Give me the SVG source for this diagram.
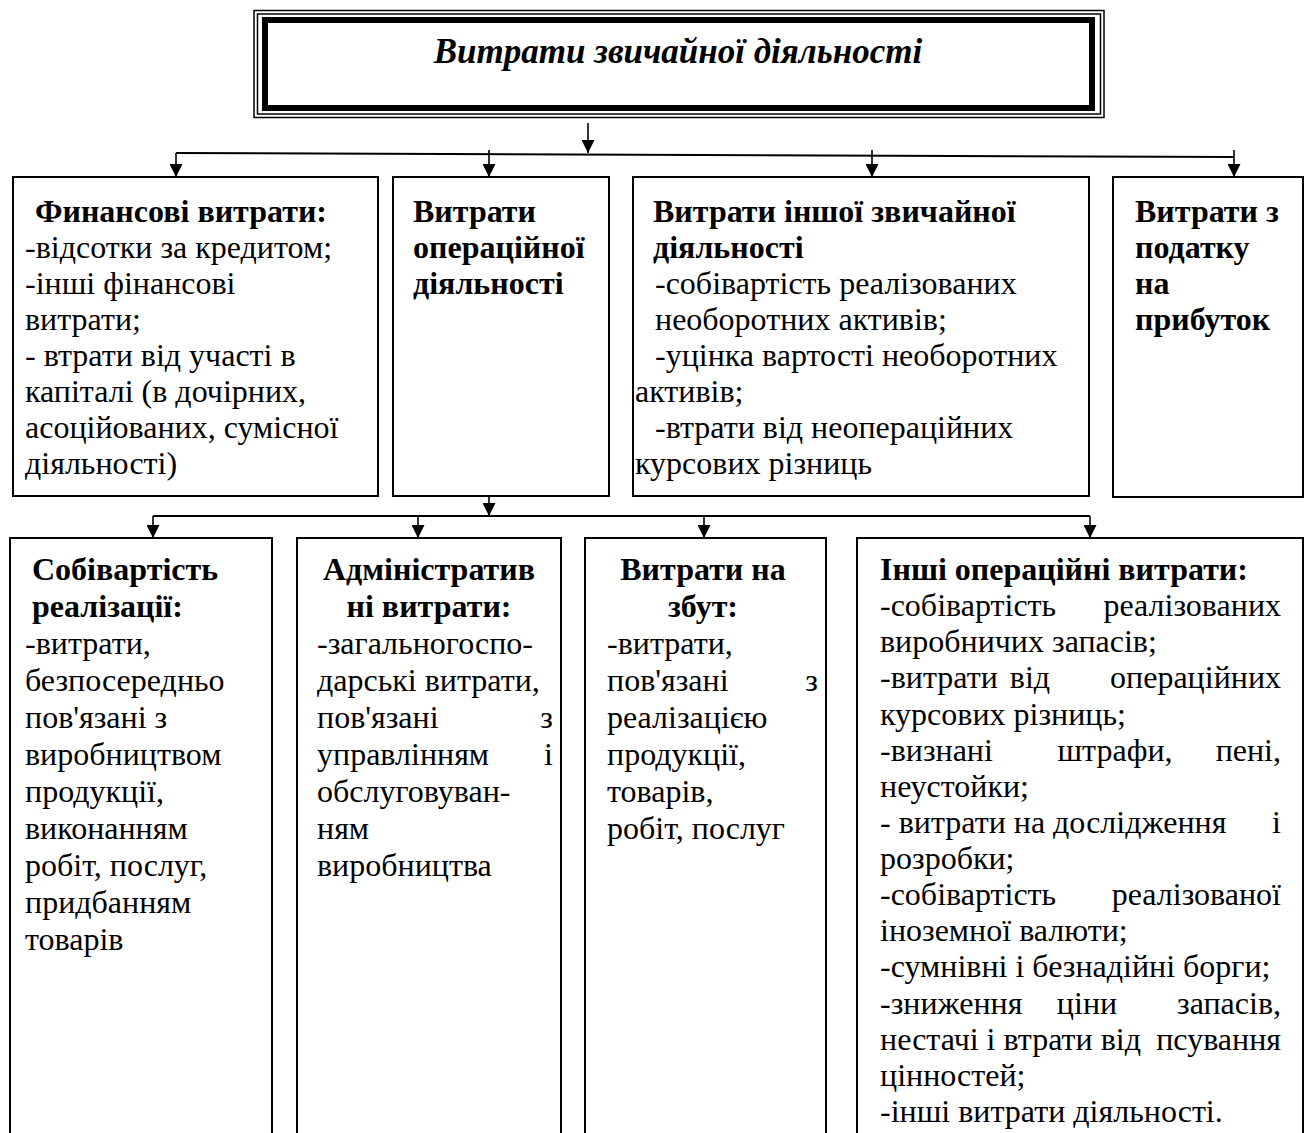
<svg xmlns="http://www.w3.org/2000/svg" width="1305" height="1133" viewBox="0 0 1305 1133">
  <defs>
    <marker id="ah" viewBox="0 0 10 10" refX="10" refY="5" markerUnits="userSpaceOnUse" markerWidth="15" markerHeight="13" orient="auto">
      <path d="M0,0 L10,5 L0,10 z" fill="#000"/>
    </marker>
  </defs>
  <style>
    .box { fill: #fff; stroke: #000; stroke-width: 2; }
    .thin { fill: none; stroke: #000; stroke-width: 1.5; }
    .thick { fill: #fff; stroke: #000; stroke-width: 6; }
    .t { font-family: "Liberation Serif", "Times New Roman", serif; font-size: 32px; fill: #000; }
    .b { font-weight: bold; }
    .title { font-family: "Liberation Serif", "Times New Roman", serif; font-size: 35px; font-weight: bold; font-style: italic; fill: #000; }
    .c { text-anchor: middle; }
    .e { text-anchor: end; }
    .ln { stroke: #000; stroke-width: 2; fill: none; }
    .arr { stroke: #000; stroke-width: 1.6; fill: none; marker-end: url(#ah); }
  </style>
  <rect width="1305" height="1133" fill="#fff"/>

  <!-- root: framed title -->
  <g id="root">
    <rect class="thin" x="254" y="10.5" width="850" height="107"/>
    <rect class="thin" x="257.5" y="14" width="843" height="100"/>
    <rect class="thick" x="265" y="20" width="827" height="88"/>
    <text class="title c" x="678" y="63">Витрати звичайної діяльності</text>
  </g>

  <!-- connectors -->
  <g id="connectors">
    <line class="arr" x1="588" y1="123" x2="588" y2="153"/>
    <line class="ln" x1="176" y1="153" x2="1234" y2="157"/>
    <line class="arr" x1="176" y1="153" x2="176" y2="177"/>
    <line class="arr" x1="489" y1="150" x2="489" y2="177"/>
    <line class="arr" x1="872" y1="150" x2="872" y2="177"/>
    <line class="arr" x1="1234" y1="150" x2="1234" y2="177"/>

    <line class="arr" x1="489" y1="488" x2="489" y2="516"/>
    <line class="ln" x1="153" y1="516" x2="1090" y2="516"/>
    <line class="arr" x1="153" y1="516" x2="153" y2="538"/>
    <line class="arr" x1="418" y1="516" x2="418" y2="538"/>
    <line class="arr" x1="704" y1="516" x2="704" y2="538"/>
    <line class="arr" x1="1090" y1="516" x2="1090" y2="538"/>
  </g>

  <!-- first level -->
  <g id="fin">
    <rect class="box" x="13" y="177" width="365" height="319"/>
    <text class="t b" x="35" y="222">Финансові витрати:</text>
    <text class="t" x="25" y="258">-відсотки за кредитом;</text>
    <text class="t" x="25" y="294">-інші фінансові</text>
    <text class="t" x="25" y="330">витрати;</text>
    <text class="t" x="25" y="366">- втрати від участі в</text>
    <text class="t" x="25" y="402">капіталі (в дочірних,</text>
    <text class="t" x="25" y="438">асоційованих, сумісної</text>
    <text class="t" x="25" y="474">діяльності)</text>
  </g>

  <g id="oper">
    <rect class="box" x="393" y="177" width="216" height="319"/>
    <text class="t b" x="413" y="222">Витрати</text>
    <text class="t b" x="413" y="258">операційної</text>
    <text class="t b" x="413" y="294">діяльності</text>
  </g>

  <g id="other">
    <rect class="box" x="633" y="177" width="456" height="319"/>
    <text class="t b" x="653" y="222">Витрати іншої звичайної</text>
    <text class="t b" x="653" y="258">діяльності</text>
    <text class="t" x="655" y="294">-собівартість реалізованих</text>
    <text class="t" x="655" y="330">необоротних активів;</text>
    <text class="t" x="655" y="366">-уцінка вартості необоротних</text>
    <text class="t" x="635" y="402">активів;</text>
    <text class="t" x="655" y="438">-втрати від неопераційних</text>
    <text class="t" x="635" y="474">курсових різниць</text>
  </g>

  <g id="tax">
    <rect class="box" x="1113" y="177" width="190" height="320"/>
    <text class="t b" x="1135" y="222">Витрати з</text>
    <text class="t b" x="1135" y="258">податку</text>
    <text class="t b" x="1135" y="294">на</text>
    <text class="t b" x="1135" y="330">прибуток</text>
  </g>

  <!-- second level (boxes run past the lower edge) -->
  <g id="cost">
    <rect class="box" x="10" y="538" width="262" height="620"/>
    <text class="t b" x="32" y="580">Собівартість</text>
    <text class="t b" x="32" y="617">реалізації:</text>
    <text class="t" x="25" y="654">-витрати,</text>
    <text class="t" x="25" y="691">безпосередньо</text>
    <text class="t" x="25" y="728">пов'язані з</text>
    <text class="t" x="25" y="765">виробництвом</text>
    <text class="t" x="25" y="802">продукції,</text>
    <text class="t" x="25" y="839">виконанням</text>
    <text class="t" x="25" y="876">робіт, послуг,</text>
    <text class="t" x="25" y="913">придбанням</text>
    <text class="t" x="25" y="950">товарів</text>
  </g>

  <g id="admin">
    <rect class="box" x="297" y="538" width="264" height="620"/>
    <text class="t b c" x="429" y="580">Адміністратив</text>
    <text class="t b c" x="429" y="617">ні витрати:</text>
    <text class="t" x="317" y="654">-загальногоспо-</text>
    <text class="t" x="317" y="691">дарські витрати,</text>
    <text class="t" x="317" y="728">пов'язані</text>
    <text class="t e" x="553" y="728">з</text>
    <text class="t" x="317" y="765">управлінням</text>
    <text class="t e" x="553" y="765">і</text>
    <text class="t" x="317" y="802">обслуговуван-</text>
    <text class="t" x="317" y="839">ням</text>
    <text class="t" x="317" y="876">виробництва</text>
  </g>

  <g id="sales">
    <rect class="box" x="585" y="538" width="241" height="620"/>
    <text class="t b c" x="703" y="580">Витрати на</text>
    <text class="t b c" x="703" y="617">збут:</text>
    <text class="t" x="607" y="654">-витрати,</text>
    <text class="t" x="607" y="691">пов'язані</text>
    <text class="t e" x="818" y="691">з</text>
    <text class="t" x="607" y="728">реалізацією</text>
    <text class="t" x="607" y="765">продукції,</text>
    <text class="t" x="607" y="802">товарів,</text>
    <text class="t" x="607" y="839">робіт, послуг</text>
  </g>

  <g id="other-oper">
    <rect class="box" x="857" y="538" width="446" height="620"/>
    <text class="t b" x="880" y="580">Інші операційні витрати:</text>
    <text class="t" x="880" y="616">-собівартість</text>
    <text class="t e" x="1281" y="616">реалізованих</text>
    <text class="t" x="880" y="652">виробничих запасів;</text>
    <text class="t" x="880" y="688">-витрати</text>
    <text class="t c" x="1030" y="688">від</text>
    <text class="t e" x="1281" y="688">операційних</text>
    <text class="t" x="880" y="725">курсових різниць;</text>
    <text class="t" x="880" y="761">-визнані</text>
    <text class="t c" x="1115" y="761">штрафи,</text>
    <text class="t e" x="1281" y="761">пені,</text>
    <text class="t" x="880" y="797">неустойки;</text>
    <text class="t" x="880" y="833">- витрати на дослідження</text>
    <text class="t e" x="1281" y="833">і</text>
    <text class="t" x="880" y="869">розробки;</text>
    <text class="t" x="880" y="905">-собівартість</text>
    <text class="t e" x="1281" y="905">реалізованої</text>
    <text class="t" x="880" y="941">іноземної валюти;</text>
    <text class="t" x="880" y="977">-сумнівні і безнадійні борги;</text>
    <text class="t" x="880" y="1014">-зниження</text>
    <text class="t c" x="1087" y="1014">ціни</text>
    <text class="t e" x="1281" y="1014">запасів,</text>
    <text class="t" x="880" y="1050">нестачі і втрати від</text>
    <text class="t e" x="1281" y="1050">псування</text>
    <text class="t" x="880" y="1086">цінностей;</text>
    <text class="t" x="880" y="1122">-інші витрати діяльності.</text>
  </g>
</svg>
